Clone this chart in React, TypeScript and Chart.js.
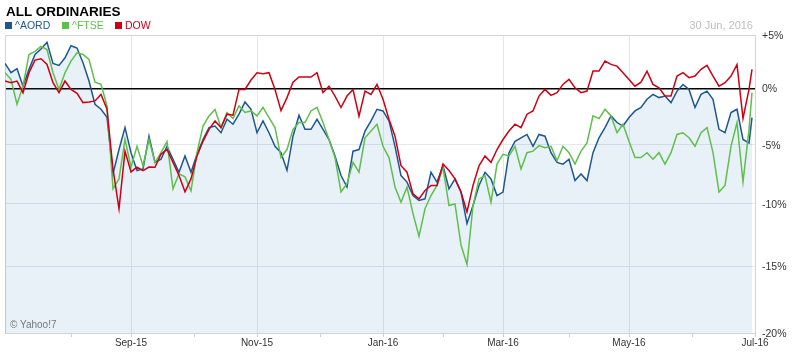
import React, { useEffect, useRef } from 'react';
import { Chart, registerables } from 'chart.js';

Chart.register(...registerables);

// ---- data (percent change since 30 Jun 2015), one sample every 2 trading days ----
const SAMPLE_STEP = 2;
const LAST_DAY = 249;
const AXIS_END_DAY = 250;

const monthStartDays = [22, 42, 63, 84, 105, 126, 146, 166, 188, 208, 229, 250];
const monthLabels = ['Aug-15', 'Sep-15', 'Oct-15', 'Nov-15', 'Dec-15', 'Jan-16', 'Feb-16', 'Mar-16', 'Apr-16', 'May-16', 'Jun-16', 'Jul-16'];
const labelledMonths = ['Sep-15', 'Nov-15', 'Jan-16', 'Mar-16', 'May-16', 'Jul-16'];

const yTickPercents = [5, 0, -5, -10, -15, -20];

const seriesNames = ['^AORD', '^FTSE', 'DOW'];
const dateLabel = '30 Jun, 2016';
const titleText = 'ALL ORDINARIES';
const creditText = '© Yahoo!7';

const aord = [
  2.31, 1.45, 1.82, 0.21, 1.76, 3.15, 3.67, 4.3, 2.31, 2.13, 2.84, 3.98, 3.76, 2.38, 0.68, -1.43, -1.88, -2.6, -7.5, -5.42, -3.51, -5.69, -7.22, -7.08, -4.26,
  -6.52, -6.25, -5.14, -6.25, -7.36, -5.97, -7.36, -5.83, -4.55, -3.51, -3.37, -3.96, -2.77, -3.21, -2.32, -1.22, -1.88, -3.96, -2.92, -3.96, -5.14, -5.69, -7.2, -4.26, -2.41,
  -3.66, -3.66, -2.77, -3.66, -4.55, -5.97, -7.64, -8.6, -5.56, -5.42, -3.81, -2.92, -1.88, -2.03, -2.92, -5.14, -7.64, -8.19, -9.31, -9.72, -9.58, -7.36, -8.19, -6.81, -8.75,
  -7.92, -9.02, -11.6, -10.13, -8.47, -7.36, -7.92, -9.31, -9.02, -5.69, -4.71, -4.4, -4.11, -5.14, -4.11, -4.26, -5.69, -6.52, -6.67, -6.25, -8.06, -7.5, -8.06, -5.69, -4.4,
  -3.51, -2.47, -3.06, -3.37, -2.62, -2.03, -1.72, -0.98, -0.54, -0.83, -0.69, -1.28, -0.24, 0.37, -0.09, -1.72, -0.54, -0.24, -0.98, -3.66, -3.96, -2.17, -1.88, -4.55, -4.85, -2.62,
];

const ftse = [
  1.45, 0.83, -1.43, 0.21, 3.15, 3.45, 3.91, 3.61, 1.45, -0.09, 1.45, 2.53, 3.3, 3.15, 2.68, 0.58, 0.37, -1.58, -8.75, -7.92, -4.55, -6.94, -5.14, -6.81, -4.55,
  -6.52, -5.69, -4.73, -8.75, -7.5, -7.75, -8.92, -5.69, -3.37, -2.47, -1.9, -3.51, -2.17, -2.71, -1.58, -2.17, -2.03, -2.47, -1.72, -2.62, -3.51, -6.1, -5.42, -3.66, -3.06,
  -3.06, -2.03, -1.7, -3.06, -4.55, -6.11, -9.0, -8.33, -6.52, -7.36, -4.4, -3.81, -3.21, -5.14, -6.11, -8.61, -9.86, -8.61, -10.79, -12.62, -10.4, -9.31, -8.47, -6.94, -10.13,
  -10.0, -13.31, -14.84, -10.13, -7.92, -7.64, -9.86, -6.67, -5.83, -5.97, -5.14, -7.08, -5.69, -5.56, -5.08, -5.27, -5.14, -6.39, -5.14, -5.69, -6.67, -5.56, -4.85, -2.47, -2.71,
  -1.88, -2.47, -3.96, -3.21, -4.71, -6.11, -6.11, -5.69, -6.25, -5.69, -6.67, -5.69, -4.11, -3.96, -4.4, -5.14, -3.96, -3.51, -5.69, -9.02, -8.47, -5.14, -3.06, -8.17, -3.66, -0.38,
];

const dow = [
  0.68, 0.53, 0.68, -0.38, 1.45, 2.62, 2.75, 2.22, 0.53, -0.38, 0.68, -0.09, -0.45, -1.28, -1.22, -1.13, -0.54, -1.88, -7.1, -10.4, -5.56, -7.33, -6.92, -7.22, -6.92,
  -6.94, -5.83, -5.42, -6.52, -7.64, -9.0, -7.92, -5.97, -4.71, -3.66, -2.92, -3.51, -2.32, -2.41, -0.09, -0.09, 0.77, 1.45, 1.36, 1.45, -0.09, -2.0, -0.83, 0.58, 1.05,
  1.05, 1.05, 1.45, -0.38, 0.21, -0.69, -1.72, -0.69, -0.1, -2.5, -0.24, -0.54, 0.37, -0.98, -2.77, -4.26, -6.81, -7.36, -9.17, -9.58, -8.89, -8.47, -8.47, -6.67, -7.22,
  -7.92, -9.02, -10.66, -8.47, -6.81, -5.97, -6.52, -5.42, -4.55, -3.81, -3.21, -3.51, -2.32, -2.03, -0.69, -0.09, -0.63, -0.38, 0.37, 0.83, 0.06, -0.38, -0.24, 1.6, 1.6,
  2.53, 2.22, 2.06, 1.45, 0.83, 0.21, 0.58, 1.6, 0.37, 0.06, -0.69, -0.69, 1.14, 1.45, 0.99, 1.14, 1.76, 2.13, 1.14, 0.21, 0.53, 1.14, 2.2, -2.7, -0.09, 1.76,
];

// ---- styles ----
const FONT = '"Liberation Sans", Arial, Helvetica, sans-serif';
const BLUE = '#1d5790';
const GREEN = '#5fbf4b';
const RED = '#cc0014';
const GRID = '#e2e8ee';
const FRAME = '#d4d4d4';

export default function App() {
  const canvasRef = useRef<HTMLCanvasElement | null>(null);

  useEffect(() => {
    const canvas = canvasRef.current;
    if (!canvas) return;
    const n = aord.length;
    const dayAt = (i: number) => (i === n - 1 ? LAST_DAY : i * SAMPLE_STEP);
    const toPoints = (arr: number[]) => arr.map((p, i) => ({ x: dayAt(i), y: 100 + p }));
    const isLabelled = (v: number) => {
      const idx = monthStartDays.indexOf(v);
      return idx >= 0 && labelledMonths.includes(monthLabels[idx]);
    };

    const frame = {
      id: 'frame',
      beforeDatasetsDraw(chart: any) {
        const { ctx, chartArea: a } = chart;
        ctx.save();
        ctx.strokeStyle = FRAME;
        ctx.lineWidth = 1;
        ctx.beginPath();
        ctx.moveTo(Math.round(a.left) + 0.5, a.top);
        ctx.lineTo(Math.round(a.left) + 0.5, a.bottom);
        ctx.stroke();
        ctx.restore();
      },
    };

    const chart = new Chart(canvas, {
      type: 'line',
      data: {
        datasets: [
          { label: seriesNames[2], data: toPoints(dow), borderColor: RED, borderWidth: 1.5, pointRadius: 0, fill: false, order: 0, tension: 0 },
          { label: seriesNames[1], data: toPoints(ftse), borderColor: GREEN, borderWidth: 1.5, pointRadius: 0, fill: false, order: 1, tension: 0 },
          {
            label: seriesNames[0], data: toPoints(aord), borderColor: BLUE, borderWidth: 1.5, pointRadius: 0,
            fill: 'start', backgroundColor: 'rgba(40,120,190,0.1)', order: 2, tension: 0,
          },
        ],
      },
      options: {
        animation: false,
        responsive: true,
        maintainAspectRatio: false,
        events: [],
        layout: { padding: { left: 5, top: 35, right: 0, bottom: 0 } },
        plugins: { legend: { display: false }, tooltip: { enabled: false }, title: { display: false } },
        scales: {
          x: {
            type: 'linear',
            min: 0,
            max: AXIS_END_DAY,
            afterBuildTicks: (s: any) => { s.ticks = monthStartDays.map((v) => ({ value: v })); },
            afterFit: (s: any) => { s.height = 21; },
            ticks: {
              autoSkip: false,
              maxRotation: 0,
              padding: 0,
              color: '#333',
              font: { size: 10, family: FONT },
              callback: (v: any) => {
                const idx = monthStartDays.indexOf(Number(v));
                return idx >= 0 && labelledMonths.includes(monthLabels[idx]) ? monthLabels[idx] : '';
              },
            },
            grid: {
              color: (c: any) => (c.tick && isLabelled(c.tick.value) ? GRID : 'rgba(0,0,0,0)'),
              tickColor: '#d0d0d0',
              tickLength: 4,
            },
            border: { color: FRAME },
          },
          y: {
            type: 'logarithmic',
            position: 'right',
            min: 80,
            max: 105,
            afterBuildTicks: (s: any) => { s.ticks = yTickPercents.map((p) => ({ value: 100 + p })); },
            afterFit: (s: any) => { s.width = 38; },
            ticks: {
              padding: 7,
              labelOffset: 1,
              color: '#333',
              font: { size: 10.5, family: FONT },
              callback: (v: any) => {
                const p = Math.round(Number(v) - 100);
                return p > 0 ? `+${p}%` : `${p}%`;
              },
            },
            grid: {
              drawTicks: false,
              color: (c: any) => {
                const v = c.tick ? Math.round(c.tick.value) : 0;
                if (v === 100) return '#000';
                if (v === 105 || v === 80) return FRAME;
                return GRID;
              },
              lineWidth: (c: any) => (c.tick && Math.round(c.tick.value) === 100 ? 1.5 : 1),
            },
            border: { color: FRAME },
          },
        },
      },
      plugins: [frame],
    } as any);

    return () => chart.destroy();
  }, []);

  const legendColors = [BLUE, GREEN, RED];
  const legendX = [5, 62, 115];

  return (
    <div style={{ position: 'fixed', left: 0, top: 0, width: 793, height: 354, background: '#fff', fontFamily: FONT, overflow: 'hidden' }}>
      <div style={{ position: 'absolute', left: 0, top: 0, width: 793, height: 354 }}>
        <canvas ref={canvasRef} />
      </div>
      <div style={{ position: 'absolute', left: 6, top: 5, fontSize: 13.5, lineHeight: '13.5px', fontWeight: 'bold', color: '#000', whiteSpace: 'nowrap' }}>
        {titleText}
      </div>
      {seriesNames.map((name, i) => (
        <div key={name} style={{ position: 'absolute', left: legendX[i], top: 20, height: 12, whiteSpace: 'nowrap' }}>
          <span style={{ position: 'absolute', left: 0, top: 2, width: 7, height: 7, background: legendColors[i] }} />
          <span style={{ position: 'absolute', left: 10, top: 0, fontSize: 10.5, lineHeight: '10.5px', color: legendColors[i] }}>{name}</span>
        </div>
      ))}
      <div style={{ position: 'absolute', right: 40, top: 20, fontSize: 11, lineHeight: '11px', color: '#bdbdbd', whiteSpace: 'nowrap' }}>
        {dateLabel}
      </div>
      <div style={{ position: 'absolute', left: 10, top: 320, fontSize: 10, lineHeight: '10px', color: '#777', whiteSpace: 'nowrap' }}>
        {creditText}
      </div>
    </div>
  );
}
